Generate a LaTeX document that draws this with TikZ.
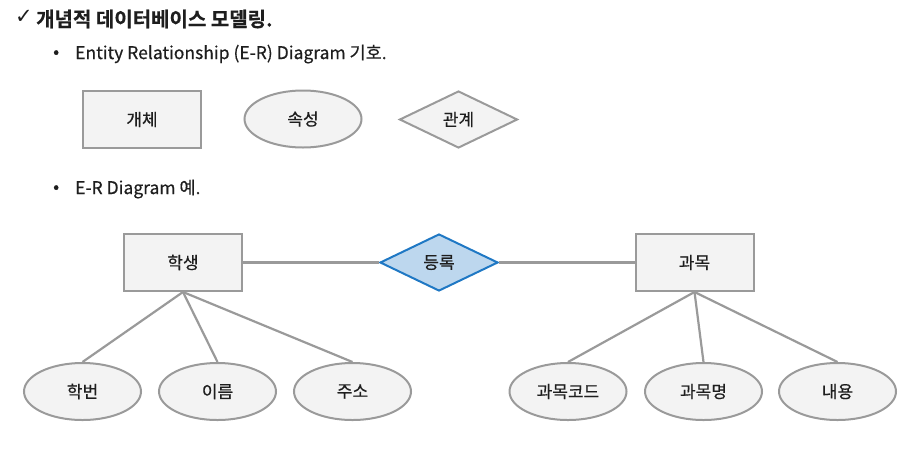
\documentclass[tikz,border=0pt]{standalone}
\usepackage{fontspec}
\setmainfont{Noto Sans CJK KR}[FakeBold=0.5]
\newfontfamily\titlefont{Noto Sans CJK KR}[FakeBold=0.5, BoldFont={* Bold}]
\newfontfamily\symfont{DejaVu Sans}
\usetikzlibrary{shapes.geometric}
\definecolor{edgegray}{HTML}{9A9A9A}
\definecolor{fillgray}{HTML}{F3F3F3}
\definecolor{relblue}{HTML}{1F78C4}
\definecolor{relfill}{HTML}{BDD7EE}
\definecolor{ink}{HTML}{1E1E1E}
\tikzset{
  entitybox/.style={draw=edgegray, fill=fillgray, line width=2pt, minimum width=118pt, minimum height=57pt, inner sep=0pt, font=\fontsize{17}{19}\selectfont, text=ink},
  attrbox/.style={ellipse, draw=edgegray, fill=fillgray, line width=2pt, minimum width=117pt, minimum height=57pt, inner sep=0pt, font=\fontsize{17}{19}\selectfont, text=ink},
  relbox/.style={diamond, draw=edgegray, fill=fillgray, line width=2pt, aspect=2, minimum width=118pt, minimum height=57pt, inner sep=0pt, font=\fontsize{17}{19}\selectfont, text=ink},
  bluerel/.style={relbox, draw=relblue, fill=relfill},
  link/.style={draw=edgegray, line width=2.2pt},
  bulletline/.style={anchor=west, inner sep=0pt, font=\fontsize{17.5}{19}\selectfont, text=ink}
}
\begin{document}
\begin{tikzpicture}[x=1pt,y=-1pt]
\useasboundingbox (0,0) rectangle (918,448);
% title
\node[anchor=west, inner sep=0pt, text=ink] (chk) at (15,17) {\symfont\bfseries\fontsize{21}{22}\selectfont ✓};
\node[anchor=west, inner sep=0pt, text=ink, font=\titlefont\bfseries\fontsize{20}{22}\selectfont] (title) at (36,19) {개념적 데이터베이스 모델링.};
% bullet 1
\node[bulletline] (b1) at (53,54) {•};
\node[bulletline] (t1) at (75,54) {Entity Relationship (E-R) Diagram 기호.};
% legend
\node[entitybox] (lent) at (142,119.5) {개체};
\node[attrbox] (lattr) at (303,119) {속성};
\node[relbox] (lrel) at (458.5,119.5) {관계};
% bullet 2
\node[bulletline] (b2) at (53,189) {•};
\node[bulletline] (t2) at (75,189) {E-R Diagram 예.};
% diagram
\node[entitybox] (stu) at (183,262.5) {학생};
\node[bluerel] (reg) at (439,262.5) {등록};
\node[entitybox] (sub) at (694.5,262.5) {과목};
\node[attrbox] (a1) at (82.5,391.5) {학번};
\node[attrbox] (a2) at (217.5,391.5) {이름};
\node[attrbox] (a3) at (352.5,391.5) {주소};
\node[attrbox] (a4) at (568,391.5) {과목코드};
\node[attrbox] (a5) at (703.5,391.5) {과목명};
\node[attrbox] (a6) at (837.5,391.5) {내용};
\draw[link] (stu.east) -- (reg.west);
\draw[link] (reg.east) -- (sub.west);
\draw[link] (stu.south) -- (a1.north);
\draw[link] (stu.south) -- (a2.north);
\draw[link] (stu.south) -- (a3.north);
\draw[link] (sub.south) -- (a4.north);
\draw[link] (sub.south) -- (a5.north);
\draw[link] (sub.south) -- (a6.north);
\end{tikzpicture}
\end{document}
